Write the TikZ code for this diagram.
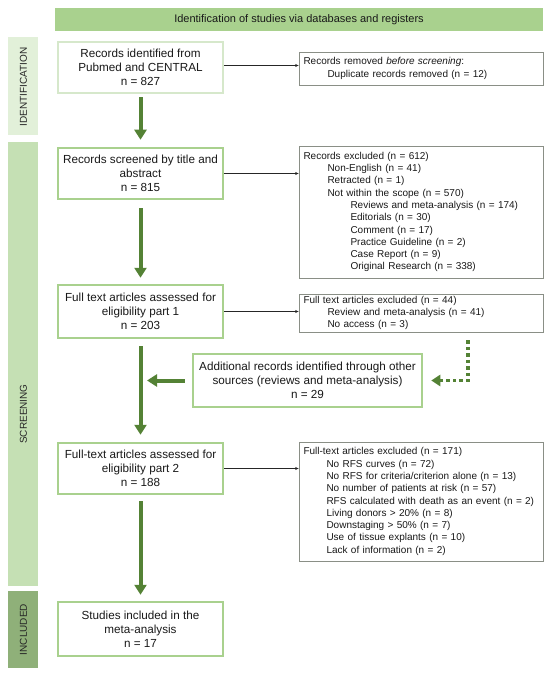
\documentclass[tikz,border=0pt]{standalone}
\usepackage{fontspec}
\setmainfont{Liberation Sans}
\usetikzlibrary{arrows.meta,calc}
\definecolor{gdark}{HTML}{548235}
\definecolor{gmid}{HTML}{A9D18E}
\definecolor{glight}{HTML}{C5E0B4}
\definecolor{gpale}{HTML}{E2F0D9}
\definecolor{gincl}{HTML}{8FB079}
\definecolor{gbord}{HTML}{D6E8CB}
\definecolor{graybord}{HTML}{8A8F86}
\newcommand{\ia}{\hspace*{24pt}}
\newcommand{\ib}{\hspace*{47pt}}
\begin{document}
\begin{tikzpicture}[x=1pt,y=-1pt,
  mainbox/.style={draw=gmid, line width=2.5pt, fill=white, align=center,
    font=\fontsize{11.7}{13.8}\selectfont, text=black!90, inner sep=0pt},
  graybox/.style={draw=graybord, line width=0.8pt, fill=white, align=left,
    font=\fontsize{10}{12.3}\selectfont, text=black!90, text width=235pt,
    inner xsep=4.5pt, inner ysep=0pt},
  sidebar/.style={inner sep=0pt, minimum width=30pt},
  sidelabel/.style={rotate=90, font=\fontsize{10}{12}\selectfont, text=black!85, inner sep=0pt},
  bigarrow/.style={draw=gdark, line width=4pt, -{Triangle[length=10pt,width=12pt]}},
  thinarrow/.style={draw=black!85, line width=0.6pt, -{Stealth[length=3.5pt,width=3pt]}},
  dotarrow/.style={draw=gdark, line width=3.5pt, dash pattern=on 3.5pt off 3pt, -{Triangle[length=9pt,width=11pt]}}
]
\useasboundingbox (0,0) rectangle (550,676);
\fill[white] (0,0) rectangle (550,676);

% banner
\node[fill=gmid, inner sep=0pt, minimum width=488pt, minimum height=23pt,
  font=\fontsize{11}{13}\selectfont, text=black!90] (banner) at (299,19.5)
  {Identification of studies via databases and registers};

% side bars
\node[sidebar, fill=gpale, minimum height=98pt] (idbar) at (23,86) {};
\node[sidebar, fill=glight, minimum height=444pt] (scrbar) at (23,364) {};
\node[sidebar, fill=gincl, minimum height=77pt] (incbar) at (23,629.5) {};
\node[sidelabel] (idlab) at (23.5,87) {IDENTIFICATION};
\node[sidelabel] (scrlab) at (23.5,414) {SCREENING};
\node[sidelabel] (inclab) at (23.5,629.5) {INCLUDED};

% main boxes
\node[mainbox, draw=gbord, minimum width=165pt, minimum height=51pt] (box1) at (140.5,67.5)
  {Records identified from\\Pubmed and CENTRAL\\n = 827};
\node[mainbox, minimum width=165pt, minimum height=51pt] (box2) at (140.5,173.5)
  {Records screened by title and\\abstract\\n = 815};
\node[mainbox, minimum width=165pt, minimum height=53pt] (box3) at (140.5,311.5)
  {Full text articles assessed for\\eligibility part 1\\n = 203};
\node[mainbox, minimum width=165pt, minimum height=51pt] (box4) at (140.5,468.5)
  {Full-text articles assessed for\\eligibility part 2\\n = 188};
\node[mainbox, minimum width=165pt, minimum height=54pt] (box5) at (140.5,629)
  {Studies included in the\\meta-analysis\\n = 17};
\node[mainbox, minimum width=229pt, minimum height=53pt] (addbox) at (307.5,380.5)
  {Additional records identified through other\\sources (reviews and meta-analysis)\\n = 29};

% gray boxes
\node[graybox, minimum height=33pt] (rem) at (421,68.5)
  {Records removed \textit{before screening}:\\
   \ia Duplicate records removed (n = 12)};
\node[graybox, minimum height=132pt] (exc1) at (421,212)
  {Records excluded (n = 612)\\
   \ia Non-English (n = 41)\\
   \ia Retracted (n = 1)\\
   \ia Not within the scope (n = 570)\\
   \ib Reviews and meta-analysis (n = 174)\\
   \ib Editorials (n = 30)\\
   \ib Comment (n = 17)\\
   \ib Practice Guideline (n = 2)\\
   \ib Case Report (n = 9)\\
   \ib Original Research (n = 338)};
\node[graybox, minimum height=38pt] (exc2) at (421,313)
  {Full text articles excluded (n = 44)\\
   \ia Review and meta-analysis (n = 41)\\
   \ia No access (n = 3)};
\node[graybox, minimum height=119pt] (exc3) at (421,501.5)
  {Full-text articles excluded (n = 171)\\
   \hspace*{23pt}No RFS curves (n = 72)\\
   \hspace*{23pt}No RFS for criteria/criterion alone (n = 13)\\
   \hspace*{23pt}No number of patients at risk (n = 57)\\
   \hspace*{23pt}RFS calculated with death as an event (n = 2)\\
   \hspace*{23pt}Living donors > 20\% (n = 8)\\
   \hspace*{23pt}Downstaging > 50\% (n = 7)\\
   \hspace*{23pt}Use of tissue explants (n = 10)\\
   \hspace*{23pt}Lack of information (n = 2)};

% thin arrows
\draw[thinarrow] (box1.east) ++(0,-2) coordinate (b1e) -- (b1e -| rem.west);
\draw[thinarrow] (box2.east) -- (box2.east -| exc1.west);
\draw[thinarrow] (box3.east) -- (box3.east -| exc2.west);
\draw[thinarrow] (box4.east) -- (box4.east -| exc3.west);

% green arrows
\draw[bigarrow, shorten <=3pt, shorten >=7pt] (box1.south) -- (box2.north);
\draw[bigarrow, shorten <=8pt, shorten >=6pt] (box2.south) -- (box3.north);
\draw[bigarrow, shorten <=7pt, shorten >=7pt] (box3.south) -- (box4.north);
\draw[bigarrow, shorten <=6pt, shorten >=6pt] (box4.south) -- (box5.north);

\coordinate (lt) at (147,380.5);
\draw[bigarrow, shorten <=7pt] (addbox.west) -- (lt);

\coordinate (dx) at (468,380.5);
\draw[dotarrow, shorten <=8pt, shorten >=8pt] (exc2.south -| dx) |- (addbox.east);
\end{tikzpicture}
\end{document}
